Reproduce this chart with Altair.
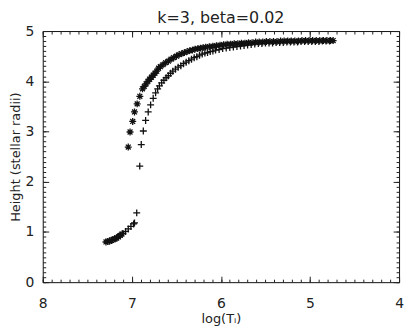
import altair as alt
import pandas as pd

# Series A (asterisks, upper/left curve)
ax = [7.29, 7.27, 7.25, 7.23, 7.21, 7.19, 7.17, 7.15, 7.13, 7.11,
      7.04, 7.02, 6.99, 6.97, 6.94, 6.91, 6.88, 6.86, 6.84, 6.82,
      6.80, 6.78, 6.76, 6.74, 6.72, 6.70, 6.68, 6.65, 6.62, 6.59,
      6.56, 6.53, 6.50, 6.47, 6.44, 6.41, 6.38, 6.35, 6.32, 6.29,
      6.26, 6.23, 6.20, 6.17, 6.13, 6.09, 6.05, 6.01, 5.97, 5.93,
      5.89, 5.85, 5.81, 5.77, 5.73, 5.69, 5.65, 5.61, 5.57, 5.53,
      5.49, 5.45, 5.41, 5.37, 5.33, 5.29, 5.25, 5.21, 5.17, 5.13,
      5.09, 5.05, 5.01, 4.97, 4.93, 4.89, 4.85, 4.81, 4.77, 4.74]
ay = [0.80, 0.81, 0.82, 0.83, 0.85, 0.86, 0.88, 0.90, 0.93, 0.96,
      2.69, 2.99, 3.20, 3.39, 3.55, 3.70, 3.85, 3.90, 3.95, 4.00,
      4.04, 4.08, 4.12, 4.16, 4.20, 4.26, 4.29, 4.33, 4.37, 4.40,
      4.44, 4.47, 4.50, 4.53, 4.55, 4.57, 4.59, 4.61, 4.62, 4.64,
      4.65, 4.66, 4.67, 4.68, 4.69, 4.70, 4.71, 4.72, 4.73, 4.74,
      4.74, 4.75, 4.75, 4.76, 4.76, 4.77, 4.77, 4.78, 4.78, 4.78,
      4.79, 4.79, 4.79, 4.79, 4.80, 4.80, 4.80, 4.80, 4.80, 4.80,
      4.81, 4.81, 4.81, 4.81, 4.81, 4.81, 4.81, 4.81, 4.81, 4.81]

# Series B (plus signs, lower/right curve)
bx = [7.25, 7.22, 7.19, 7.16, 7.13, 7.10, 7.07, 7.04, 7.01, 6.98,
      6.97, 6.945, 6.911, 6.894, 6.871, 6.845, 6.816, 6.789, 6.760, 6.733,
      6.71, 6.69, 6.665, 6.64, 6.615, 6.59, 6.565, 6.54, 6.51, 6.48,
      6.45, 6.42, 6.39, 6.36, 6.33, 6.30, 6.27, 6.24, 6.21, 6.18,
      6.15, 6.12, 6.09, 6.06, 6.02, 5.98, 5.94, 5.90, 5.86, 5.82,
      5.78, 5.74, 5.70, 5.66, 5.62, 5.58, 5.54, 5.50, 5.46, 5.42,
      5.38, 5.34, 5.30, 5.26, 5.22, 5.18, 5.14, 5.10, 5.06, 5.02,
      4.98, 4.94, 4.90, 4.86, 4.82, 4.78]
by = [0.82, 0.84, 0.87, 0.90, 0.93, 0.97, 1.01, 1.06, 1.11, 1.16,
      1.18, 1.38, 2.31, 2.74, 3.01, 3.22, 3.39, 3.53, 3.66, 3.77,
      3.85, 3.91, 3.97, 4.02, 4.07, 4.11, 4.16, 4.20, 4.24, 4.28,
      4.31, 4.35, 4.38, 4.41, 4.44, 4.47, 4.49, 4.52, 4.54, 4.56,
      4.57, 4.59, 4.60, 4.62, 4.63, 4.65, 4.66, 4.67, 4.68, 4.69,
      4.70, 4.71, 4.72, 4.73, 4.74, 4.75, 4.75, 4.76, 4.76, 4.76,
      4.77, 4.77, 4.77, 4.78, 4.78, 4.78, 4.78, 4.79, 4.79, 4.79,
      4.79, 4.79, 4.79, 4.80, 4.80, 4.80]

x_major = [4, 5, 6, 7, 8]
y_major = [0, 1, 2, 3, 4, 5]
x_minor = [round(4 + 0.1 * i, 1) for i in range(41)]
y_minor = [round(0.1 * i, 1) for i in range(51)]

dfA = pd.DataFrame({"x": ax, "y": ay})
dfB = pd.DataFrame({"x": bx, "y": by})

FONT = "DejaVu Sans"
TXT = "#222222"
ASTER = "M-1,0H1M0,-1V1M-0.7,-0.7L0.7,0.7M-0.7,0.7L0.7,-0.7"
PLUS = "M-1,0H1M0,-1V1"

xs = alt.Scale(domain=[4, 8], reverse=True, nice=False, zero=False)
ys = alt.Scale(domain=[0, 5], nice=False, zero=False)

common = dict(grid=False, domain=False, tickColor="#222222", tickWidth=1,
              labelOverlap=False, labelFlush=False,
              labelFont=FONT, labelFontSize=14, labelColor=TXT,
              titleFont=FONT, titleFontSize=13, titleColor=TXT, titleFontWeight="normal")

MAJ = 6
MIN = 3

x_bottom = alt.Axis(orient="bottom", values=x_major, format="d", tickSize=MAJ, offset=-MAJ,
                    labelPadding=15, titlePadding=2, **common)
y_left = alt.Axis(orient="left", values=y_major, format="d", tickSize=MAJ, offset=-MAJ,
                  labelPadding=9, titlePadding=3, **common)
x_top = alt.Axis(orient="top", values=x_major, tickSize=MAJ, offset=-MAJ,
                 labels=False, title=None, **common)
y_right = alt.Axis(orient="right", values=y_major, tickSize=MAJ, offset=-MAJ,
                   labels=False, title=None, **common)
x_bottom_m = alt.Axis(orient="bottom", values=x_minor, tickSize=MIN, offset=-MIN,
                      labels=False, title=None, **common)
y_left_m = alt.Axis(orient="left", values=y_minor, tickSize=MIN, offset=-MIN,
                    labels=False, title=None, **common)
x_top_m = alt.Axis(orient="top", values=x_minor, tickSize=MIN, offset=-MIN,
                   labels=False, title=None, **common)
y_right_m = alt.Axis(orient="right", values=y_minor, tickSize=MIN, offset=-MIN,
                     labels=False, title=None, **common)

layerA = alt.Chart(dfA).mark_point(shape=ASTER, filled=False, stroke="#111111",
                                   strokeWidth=1.3, size=49, opacity=1).encode(
    x=alt.X("x:Q", scale=xs, axis=x_bottom, title="log(Tᵢ)"),
    y=alt.Y("y:Q", scale=ys, axis=y_left, title="Height (stellar radii)"),
)
layerB = alt.Chart(dfB).mark_point(shape=PLUS, filled=False, stroke="#111111",
                                   strokeWidth=1.3, size=49, opacity=1).encode(
    x=alt.X("x:Q", scale=xs, axis=x_top),
    y=alt.Y("y:Q", scale=ys, axis=y_right),
)
layerC = alt.Chart(dfA).mark_point(opacity=0).encode(
    x=alt.X("x:Q", scale=xs, axis=x_bottom_m),
    y=alt.Y("y:Q", scale=ys, axis=y_left_m),
)
layerD = alt.Chart(dfA).mark_point(opacity=0).encode(
    x=alt.X("x:Q", scale=xs, axis=x_top_m),
    y=alt.Y("y:Q", scale=ys, axis=y_right_m),
)

chart = alt.layer(layerA, layerB, layerC, layerD).resolve_axis(
    x="independent", y="independent"
).properties(
    width=359, height=253,
    autosize=alt.AutoSizeParams(type="none"),
    padding={"left": 35, "top": 22, "right": 8, "bottom": 50},
    title=alt.TitleParams("k=3, beta=0.02", font=FONT, fontSize=16, fontWeight="normal",
                          color=TXT, offset=-2, anchor="middle"),
).configure_view(stroke="#111111", strokeWidth=1)

chart.save("out.html", embed_options={"renderer": "svg", "actions": False})
